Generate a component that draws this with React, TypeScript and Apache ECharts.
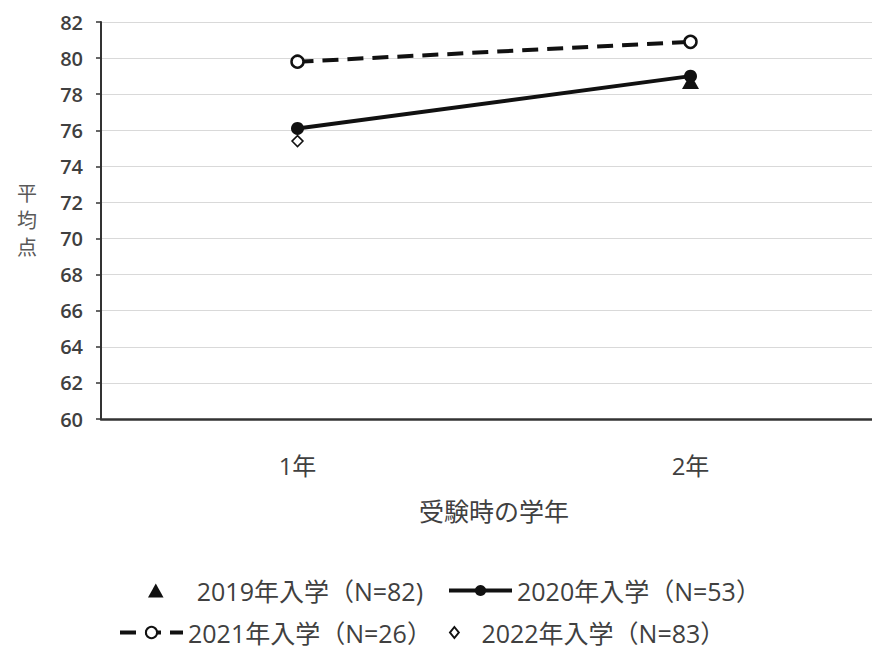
import React, { useEffect, useRef } from "react";
import * as echarts from "echarts";

const categories = ["1年", "2年"];
const yTicks = { min: 60, max: 82, interval: 2 };
const seriesNames = [
  "2019年入学（N=82)",
  "2020年入学（N=53）",
  "2021年入学（N=26）",
  "2022年入学（N=83）",
];
const s2019: (number | null)[] = [null, 78.7];
const s2020: (number | null)[] = [76.1, 79.0];
const s2021: (number | null)[] = [79.8, 80.9];
const s2022: (number | null)[] = [75.4, null];

const FONT = "'Open Sans', 'Noto Sans CJK JP', sans-serif";
const TEXT = "#404040";
const TRI = "path://M5,0L10,9L0,9Z";
const DIA = "path://M4,0L8,5L4,10L0,5Z";

export default function App() {
  const ref = useRef<HTMLDivElement>(null);
  useEffect(() => {
    document.body.style.margin = "0";
    document.body.style.overflow = "hidden";
    document.documentElement.style.overflow = "hidden";
    const chart = echarts.init(ref.current!, undefined, { renderer: "svg" });
    const legendText = { fontSize: 25, color: TEXT, fontFamily: FONT };
    const mkLegend = (name: string, left: number, top: number, w: number, h: number, icon?: string) => {
      const d: any = { name };
      if (icon) d.icon = icon;
      return {
        data: [d],
        left,
        top,
        itemWidth: w,
        itemHeight: h,
        itemGap: 0,
        padding: 0,
        symbolKeepAspect: true,
        textStyle: legendText,
        lineStyle: { width: 4 },
        selectedMode: false,
      };
    };
    chart.setOption({
      animation: false,
      backgroundColor: "#fff",
      grid: { left: 101, right: 0, top: 22, bottom: 229 },
      legend: [
        mkLegend(seriesNames[0], 148, 578, 72, 14, TRI),
        mkLegend(seriesNames[1], 447, 578, 63, 14),
        mkLegend(seriesNames[2], 118, 620, 63, 14),
        mkLegend(seriesNames[3], 449, 620, 44, 11, DIA),
      ],
      xAxis: {
        type: "category",
        data: categories,
        boundaryGap: true,
        axisLine: { show: true, lineStyle: { color: "#333", width: 2.5 } },
        axisTick: { show: false },
        axisLabel: { fontSize: 24, color: TEXT, margin: 34, fontFamily: FONT },
        name: "受験時の学年",
        nameLocation: "middle",
        nameGap: 79,
        nameTextStyle: { fontSize: 25, color: TEXT, fontFamily: FONT },
        splitLine: { show: false },
      },
      yAxis: {
        type: "value",
        min: yTicks.min,
        max: yTicks.max,
        interval: yTicks.interval,
        axisLine: { show: true, lineStyle: { color: "#333", width: 2 } },
        axisTick: { show: true, length: 5, lineStyle: { color: "#333", width: 1.5 } },
        axisLabel: { fontSize: 20, color: TEXT, margin: 18, fontFamily: FONT, fontWeight: 600 },
        splitLine: { show: true, lineStyle: { color: "#d9d9d9", width: 1 } },
        name: "平\n均\n点",
        nameLocation: "middle",
        nameRotate: 0,
        nameGap: 64,
        nameTextStyle: { fontSize: 20, color: "#595959", lineHeight: 27, fontFamily: FONT },
      },
      series: [
        {
          name: seriesNames[0],
          type: "line",
          data: s2019,
          symbol: "triangle",
          symbolSize: [17, 15],
          showAllSymbol: true,
          itemStyle: { color: "#111" },
          lineStyle: { width: 0 },
          z: 2,
        },
        {
          name: seriesNames[1],
          type: "line",
          data: s2020,
          symbol: "circle",
          symbolSize: 13,
          itemStyle: { color: "#111" },
          lineStyle: { color: "#111", width: 4 },
          z: 3,
        },
        {
          name: seriesNames[2],
          type: "line",
          data: s2021,
          symbol: "circle",
          symbolSize: 12,
          itemStyle: { color: "#fff", borderColor: "#111", borderWidth: 2.5 },
          lineStyle: { color: "#111", width: 4, type: [16, 9] },
          z: 3,
        },
        {
          name: seriesNames[3],
          type: "line",
          data: s2022,
          symbol: "diamond",
          symbolSize: 11,
          itemStyle: { color: "#fff", borderColor: "#111", borderWidth: 1.5 },
          lineStyle: { width: 0 },
          z: 2,
        },
      ],
    });
    return () => chart.dispose();
  }, []);
  return <div ref={ref} style={{ width: 887, height: 648 }} />;
}
